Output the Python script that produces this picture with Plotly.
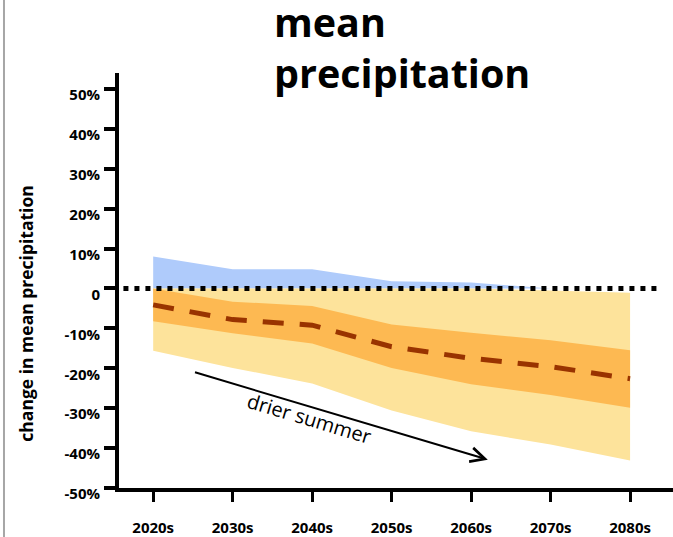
import plotly.graph_objects as go

categories = ["2020s", "2030s", "2040s", "2050s", "2060s", "2070s", "2080s"]
upper_90 = [8.0, 4.8, 4.8, 1.8, 1.5, -0.5, -1.1]
upper_75 = [0.0, -3.3, -4.4, -9.0, -11.1, -13.0, -15.5]
median = [-4.1, -7.8, -9.2, -14.6, -17.5, -19.6, -22.6]
lower_25 = [-8.2, -11.2, -13.8, -19.9, -24.0, -26.7, -29.9]
lower_10 = [-15.6, -19.9, -23.8, -30.6, -35.8, -39.1, -43.1]

ytick_vals = [50, 40, 30, 20, 10, 0, -10, -20, -30, -40, -50]
ytick_text = ["50%", "40%", "30%", "20%", "10%", "0", "-10%", "-20%", "-30%", "-40%", "-50%"]

BLUE = "#AFCBFB"
YELLOW = "#FDE39B"
ORANGE = "#FDB952"
DARK = "#993300"

blue_pos = [max(v, 0) for v in upper_90]
yellow_top = [min(v, 0) for v in upper_90]

fig = go.Figure()
fig.add_trace(go.Scatter(x=categories, y=blue_pos, mode="lines", line=dict(width=0),
                         fill="tozeroy", fillcolor=BLUE, hoverinfo="skip", showlegend=False))
fig.add_trace(go.Scatter(x=categories, y=yellow_top, mode="lines", line=dict(width=0),
                         hoverinfo="skip", showlegend=False))
fig.add_trace(go.Scatter(x=categories, y=lower_10, mode="lines", line=dict(width=0),
                         fill="tonexty", fillcolor=YELLOW, hoverinfo="skip", showlegend=False))
fig.add_trace(go.Scatter(x=categories, y=upper_75, mode="lines", line=dict(width=0),
                         hoverinfo="skip", showlegend=False))
fig.add_trace(go.Scatter(x=categories, y=lower_25, mode="lines", line=dict(width=0),
                         fill="tonexty", fillcolor=ORANGE, hoverinfo="skip", showlegend=False))
fig.add_trace(go.Scatter(x=categories, y=median, mode="lines",
                         line=dict(color=DARK, width=5, dash="21px,16px"),
                         showlegend=False))

font_family = "Open Sans"

fig.update_layout(
    width=673, height=537,
    margin=dict(l=119, r=0, t=73, b=47),
    plot_bgcolor="white", paper_bgcolor="white",
    showlegend=False,
    xaxis=dict(type="category", range=[-0.43, 6.54], showgrid=False, zeroline=False,
               showline=True, linecolor="black", linewidth=4,
               ticks="outside", ticklen=10, tickwidth=3, tickcolor="black",
               tickfont=dict(family=font_family, size=15, weight="bold", color="black"),
               ticklabelstandoff=13),
    yaxis=dict(range=[-50, 54], showgrid=False, zeroline=False,
               tickvals=ytick_vals, ticktext=ytick_text,
               showline=True, linecolor="black", linewidth=4,
               ticks="outside", ticklen=11, tickwidth=4, tickcolor="black",
               tickfont=dict(family=font_family, size=15, weight="bold", color="black"),
               ticklabelstandoff=1, ticklabelshift=6),
    shapes=[
        dict(type="line", xref="paper", yref="y", x0=0.008, x1=0.976, y0=0, y1=0,
             line=dict(color="black", width=5, dash="5px,6px"), layer="above"),
        dict(type="line", xref="paper", yref="paper", x0=-0.2076, x1=-0.2076, y0=1.18, y1=-0.12,
             line=dict(color="#A6A6A6", width=2)),
    ],
    annotations=[
        dict(text="mean<br>precipitation", xref="paper", yref="paper", x=0.276, y=1.192,
             xanchor="left", yanchor="top", align="left", showarrow=False,
             font=dict(family=font_family, size=39.5, weight="bold", color="black")),
        dict(text="change in mean precipitation", xref="paper", yref="paper",
             x=-0.168, y=0.42, xanchor="center", yanchor="middle", textangle=-90,
             showarrow=False,
             font=dict(family=font_family, size=17.5, weight="bold", color="black")),
        dict(text="", x=4.21, y=-42.9, ax=0.507, ay=-20.9, axref="x", ayref="y",
             xref="x", yref="y", showarrow=True, arrowhead=5, arrowsize=1.4,
             arrowwidth=2, arrowcolor="black"),
        dict(text="drier summer", x=1.966, y=-32.7, xref="x", yref="y", showarrow=False,
             textangle=16.7, font=dict(family=font_family, size=20, color="black")),
    ],
)

fig.write_html("out.html")
